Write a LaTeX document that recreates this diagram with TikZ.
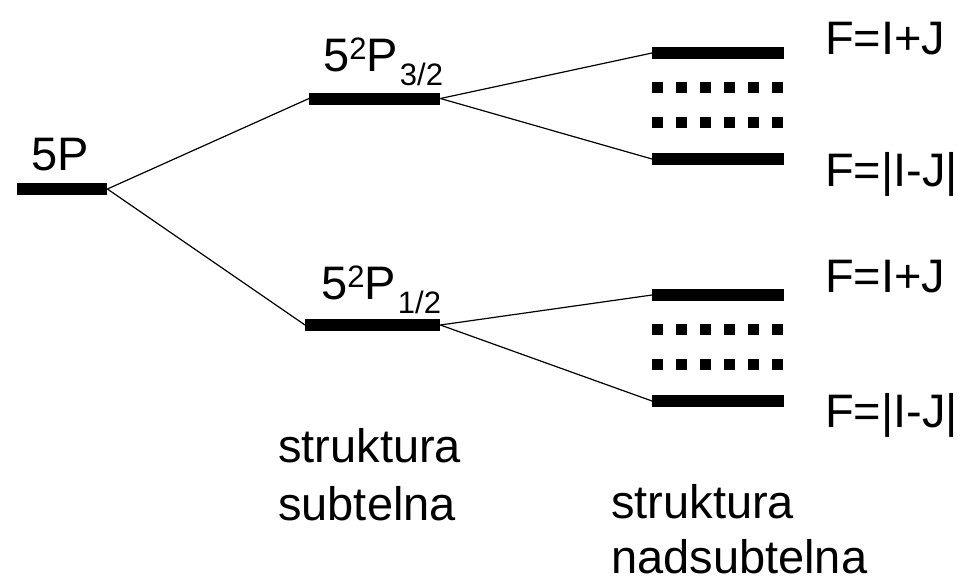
\documentclass[tikz,border=0pt]{standalone}
\usepackage{fontspec}
\setmainfont{Liberation Sans}
\begin{document}
\begin{tikzpicture}[x=1pt,y=-1pt,
  level/.style={fill=black,draw=none,inner sep=0pt,minimum height=12pt,anchor=west},
  dotrow/.style={line width=11pt,dash pattern=on 11pt off 13pt},
  conn/.style={line width=1.2pt},
  lbl/.style={inner sep=0pt,anchor=base west,font=\fontsize{47}{56}\selectfont}
]
\useasboundingbox (0,0) rectangle (962,582);
% levels
\node[level,minimum width=90pt] (p5) at (17,189) {};
\node[level,minimum width=131pt] (p32) at (309,98.5) {};
\node[level,minimum width=135pt] (p12) at (305,325) {};
\node[level,minimum width=132pt] (h1) at (652,53) {};
\node[level,minimum width=132pt] (h2) at (652,159) {};
\node[level,minimum width=132pt] (h3) at (652,295) {};
\node[level,minimum width=132pt] (h4) at (652,401) {};
% dotted levels
\draw[dotrow] (652,87.5) -- (784,87.5);
\draw[dotrow] (652,122.5) -- (784,122.5);
\draw[dotrow] (652,329) -- (784,329);
\draw[dotrow] (652,364) -- (784,364);
% connectors
\draw[conn] (p5.east) -- (p32.west);
\draw[conn] (p5.east) -- (p12.west);
\draw[conn] (p32.east) -- (h1.west);
\draw[conn] (p32.east) -- (h2.west);
\draw[conn] (p12.east) -- (h3.west);
\draw[conn] (p12.east) -- (h4.west);
% labels
\node[lbl] (t5p) at (31,170) {5P};
\node[lbl] (t32) at (323,71) {5\raisebox{11.5pt}{\fontsize{31}{31}\selectfont 2}P\hspace{2pt}\raisebox{-14pt}{\fontsize{31}{31}\selectfont 3/2}};
\node[lbl] (t12) at (321,299) {5\raisebox{11.5pt}{\fontsize{31}{31}\selectfont 2}P\hspace{2pt}\raisebox{-14pt}{\fontsize{31}{31}\selectfont 1/2}};
\node[lbl] (f1) at (825,54) {F=I+J};
\node[lbl] (f2) at (825,186) {F=|I-J|};
\node[lbl] (f3) at (825,292) {F=I+J};
\node[lbl] (f4) at (825,427) {F=|I-J|};
\node[lbl] (s1) at (278,462) {struktura};
\node[lbl] (s2) at (278,520) {subtelna};
\node[lbl] (n1) at (611,518) {struktura};
\node[lbl,text depth=0pt] (n2) at (611,573) {nadsubtelna};
\end{tikzpicture}
\end{document}
